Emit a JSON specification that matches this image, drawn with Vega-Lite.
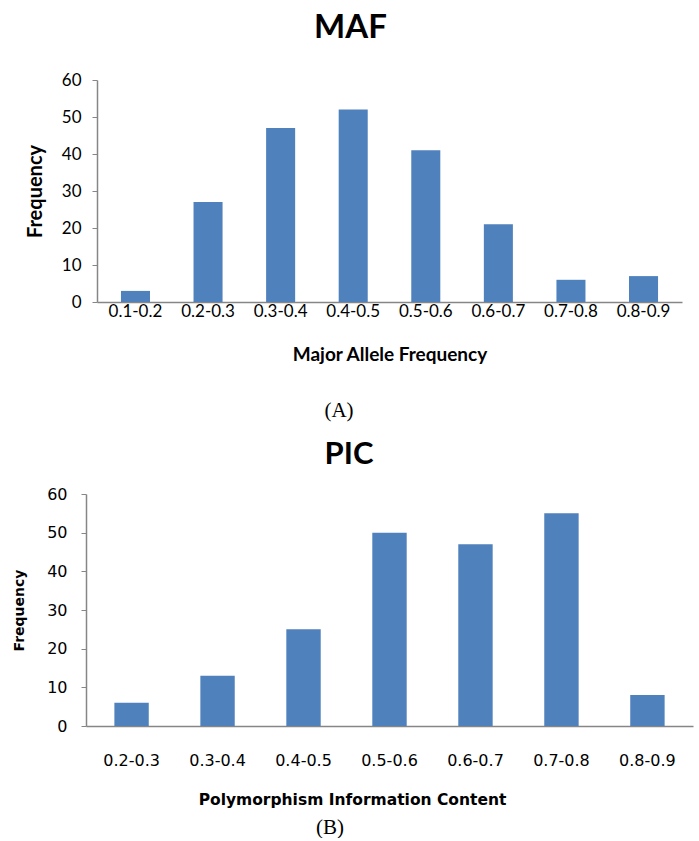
{
  "$schema": "https://vega.github.io/schema/vega-lite/v6.json",
  "padding": {"left": 12, "top": 12, "right": 5, "bottom": 0},
  "spacing": 0,
  "background": "white",
  "datasets": {
    "maf": [
      {"range": "0.1-0.2", "frequency": 3},
      {"range": "0.2-0.3", "frequency": 27},
      {"range": "0.3-0.4", "frequency": 47},
      {"range": "0.4-0.5", "frequency": 52},
      {"range": "0.5-0.6", "frequency": 41},
      {"range": "0.6-0.7", "frequency": 21},
      {"range": "0.7-0.8", "frequency": 6},
      {"range": "0.8-0.9", "frequency": 7}
    ],
    "pic": [
      {"range": "0.2-0.3", "frequency": 6},
      {"range": "0.3-0.4", "frequency": 13},
      {"range": "0.4-0.5", "frequency": 25},
      {"range": "0.5-0.6", "frequency": 50},
      {"range": "0.6-0.7", "frequency": 47},
      {"range": "0.7-0.8", "frequency": 55},
      {"range": "0.8-0.9", "frequency": 8}
    ],
    "capA": [{"caption": "(A)"}],
    "capB": [{"caption": "(B)"}]
  },
  "vconcat": [
    {
      "data": {"name": "maf"},
      "width": 585,
      "height": 222,
      "title": {"text": "MAF", "font": "Lato", "fontSize": 33, "fontWeight": "bold", "anchor": "middle", "frame": "group", "dx": -39, "offset": 26, "color": "black"},
      "mark": {"type": "bar", "color": "#4F81BD"},
      "encoding": {
        "x": {
          "field": "range", "type": "ordinal", "sort": null,
          "scale": {"paddingInner": 0.6, "paddingOuter": 0.33},
          "axis": {"title": "Major Allele Frequency", "labelAngle": 0, "ticks": false, "labelPadding": 1,
                   "labelFont": "Lato", "labelFontSize": 17, "titleFont": "Lato", "titleFontSize": 19,
                   "titleFontWeight": "bold", "titlePadding": 26}
        },
        "y": {
          "field": "frequency", "type": "quantitative", "scale": {"domain": [0, 60]},
          "axis": {"title": "Frequency", "values": [0, 10, 20, 30, 40, 50, 60], "tickSize": 5, "labelPadding": 11,
                   "labelFont": "Lato", "labelFontSize": 17, "titleFont": "Lato", "titleFontSize": 20,
                   "titleFontWeight": "bold", "titlePadding": 16}
        }
      }
    },
    {
      "data": {"name": "capA"},
      "width": 484,
      "height": 75,
      "mark": {"type": "text", "font": "Liberation Serif", "fontSize": 21, "color": "black", "dy": 9},
      "encoding": {"text": {"field": "caption", "type": "nominal"}}
    },
    {
      "data": {"name": "pic"},
      "width": 596,
      "height": 232,
      "title": {"text": "PIC", "font": "Lato", "fontSize": 31, "fontWeight": "bold", "anchor": "middle", "frame": "group", "dx": -46, "offset": 15, "color": "black"},
      "mark": {"type": "bar", "color": "#4F81BD"},
      "encoding": {
        "x": {
          "field": "range", "type": "ordinal", "sort": null,
          "scale": {"paddingInner": 0.6, "paddingOuter": 0.33, "range": [-11, 596]},
          "axis": {"title": "Polymorphism Information Content", "labelAngle": 0, "ticks": false, "labelPadding": 26,
                   "labelFont": "DejaVu Sans", "labelFontSize": 16, "titleFont": "DejaVu Sans", "titleFontSize": 15.5,
                   "titleFontWeight": "bold", "titlePadding": 24, "titleX": 255}
        },
        "y": {
          "field": "frequency", "type": "quantitative", "scale": {"domain": [0, 60]},
          "axis": {"title": "Frequency", "values": [0, 10, 20, 30, 40, 50, 60], "tickSize": 5, "labelPadding": 14, "offset": 11,
                   "labelFont": "DejaVu Sans", "labelFontSize": 16, "titleFont": "DejaVu Sans", "titleFontSize": 14,
                   "titleFontWeight": "bold", "titlePadding": 20}
        }
      }
    },
    {
      "data": {"name": "capB"},
      "width": 466,
      "height": 30,
      "mark": {"type": "text", "font": "Liberation Serif", "fontSize": 21, "color": "black", "dy": 5},
      "encoding": {"text": {"field": "caption", "type": "nominal"}}
    }
  ],
  "config": {
    "view": {"stroke": null},
    "axis": {"domainColor": "#868686", "tickColor": "#868686", "labelColor": "black", "titleColor": "black", "grid": false, "domainWidth": 1.5}
  }
}
